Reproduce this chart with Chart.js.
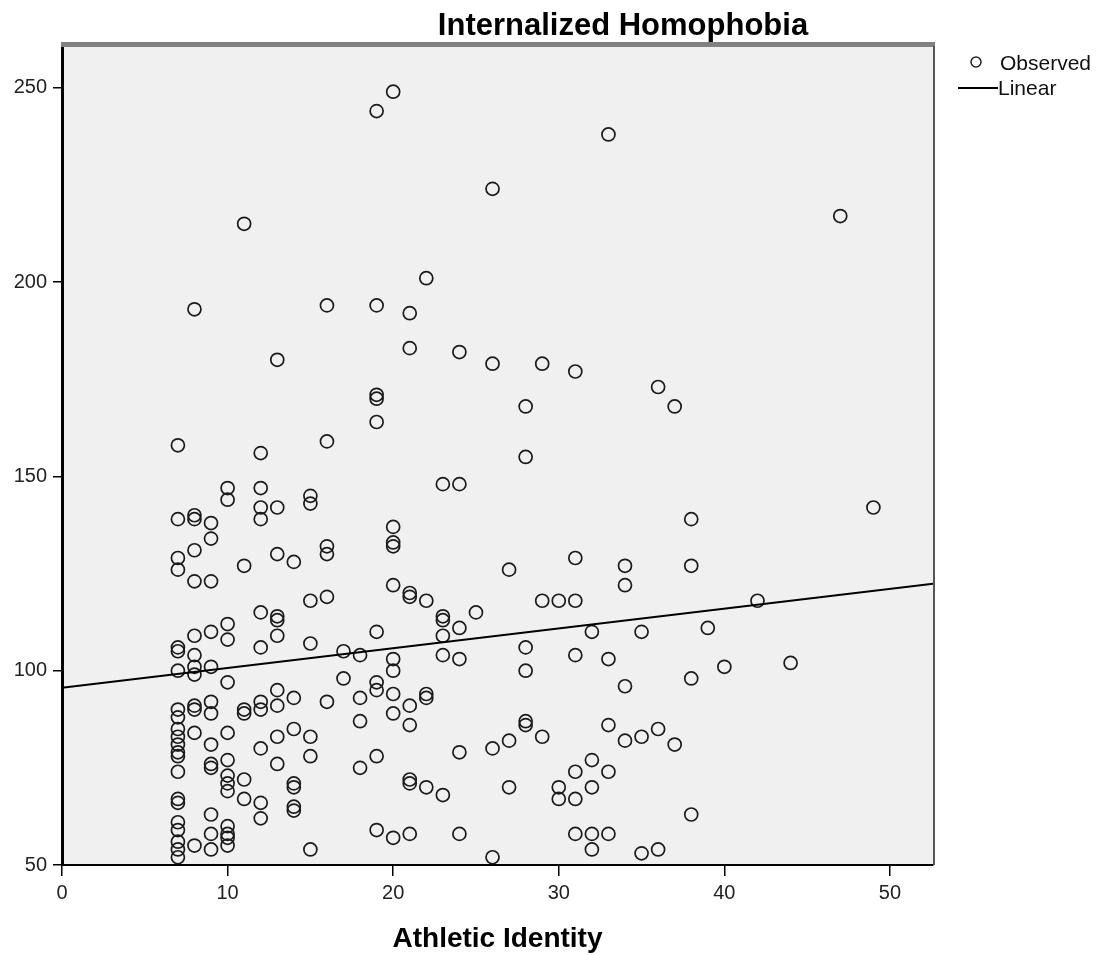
<!DOCTYPE html>
<html>
<head>
<meta charset="utf-8">
<title>Internalized Homophobia</title>
<script src="https://cdn.jsdelivr.net/npm/chart.js@4.4.1/dist/chart.umd.min.js"></script>
<style>
  html, body { margin: 0; padding: 0; background: #fff; }
  #wrap { width: 1101px; height: 955px; }
</style>
</head>
<body>
<div id="wrap"><canvas id="myChart" width="1101" height="955"></canvas></div>
<script>
// Athletic Identity score levels and the Internalized Homophobia scores observed at each
const identityLevels = [7, 8, 9, 10, 11, 12, 13, 14, 15, 16, 17, 18, 19, 20, 21, 22, 23, 24, 25, 26,
    27, 28, 29, 30, 31, 32, 33, 34, 35, 36, 37, 38, 39, 40, 42, 44, 47, 49];
const homophobiaAtLevel = [
    [158, 139, 129, 126, 106, 105, 100, 90, 88, 85, 83, 81, 79, 78, 74, 67, 66, 61, 59, 56, 54, 52],
    [193, 140, 139, 131, 123, 109, 104, 101, 99, 91, 90, 84, 55],
    [138, 134, 123, 110, 101, 92, 89, 81, 76, 75, 63, 58, 54],
    [147, 144, 112, 108, 97, 84, 77, 73, 71, 69, 60, 58, 57, 55],
    [215, 127, 90, 89, 72, 67],
    [156, 147, 142, 139, 115, 106, 92, 90, 80, 66, 62],
    [180, 142, 130, 114, 113, 109, 95, 91, 83, 76],
    [128, 93, 85, 71, 70, 65, 64],
    [145, 143, 118, 107, 83, 78, 54],
    [194, 159, 132, 130, 119, 92],
    [105, 98],
    [104, 93, 87, 75],
    [244, 194, 171, 170, 164, 110, 97, 95, 78, 59],
    [249, 137, 133, 132, 122, 103, 100, 94, 89, 57],
    [192, 183, 120, 119, 91, 86, 72, 71, 58],
    [201, 118, 94, 93, 70],
    [148, 114, 113, 109, 104, 68],
    [182, 148, 111, 103, 79, 58],
    [115],
    [224, 179, 80, 52],
    [126, 82, 70],
    [168, 155, 106, 100, 87, 86],
    [179, 118, 83],
    [118, 70, 67],
    [177, 129, 118, 104, 74, 67, 58],
    [110, 77, 70, 58, 54],
    [238, 103, 86, 74, 58],
    [127, 122, 96, 82],
    [110, 83, 53],
    [173, 85, 54],
    [168, 81],
    [139, 127, 98, 63],
    [111],
    [101],
    [118],
    [102],
    [217],
    [142]
];

// fitted linear line, read at the two edges of the plot
const linearX = [0, 52.6];
const linearY = [95.6, 122.4];

const xTicks = [0, 10, 20, 30, 40, 50];
const yTicks = [50, 100, 150, 200, 250];

const observed = [];
identityLevels.forEach((lvl, i) => {
    homophobiaAtLevel[i].forEach(v => observed.push({x: lvl, y: v}));
});
const linear = linearX.map((x, i) => ({x: x, y: linearY[i]}));

const frame = {
    id: 'frame',
    beforeDraw(chart) {
        const {ctx, chartArea: a} = chart;
        ctx.save();
        ctx.fillStyle = '#f0f0f0';
        ctx.fillRect(a.left, a.top, a.right - a.left, a.bottom - a.top);
        ctx.restore();
    },
    afterDraw(chart) {
        const {ctx, chartArea: a} = chart;
        ctx.save();
        // top and right edges of the box
        ctx.fillStyle = '#808080';
        ctx.fillRect(a.left - 1, a.top - 5, a.right - a.left + 3, 5);
        ctx.fillStyle = '#555';
        ctx.fillRect(a.right, a.top - 1, 2, a.bottom - a.top + 1);

        ctx.fillStyle = '#000';
        ctx.textBaseline = 'middle';
        ctx.textAlign = 'center';
        ctx.font = 'bold 31px "Liberation Sans", Arial, sans-serif';
        ctx.fillText('Internalized Homophobia', 623, 26);
        ctx.font = 'bold 28px "Liberation Sans", Arial, sans-serif';
        ctx.fillText('Athletic Identity', (a.left + a.right) / 2, 939);

        // legend
        ctx.textAlign = 'left';
        ctx.font = '21px "Liberation Sans", Arial, sans-serif';
        ctx.strokeStyle = '#222';
        ctx.lineWidth = 1.5;
        ctx.beginPath();
        ctx.arc(976, 62, 5, 0, Math.PI * 2);
        ctx.stroke();
        ctx.fillStyle = '#111';
        ctx.fillText('Observed', 1000, 64);
        ctx.strokeStyle = '#000';
        ctx.lineWidth = 2;
        ctx.beginPath();
        ctx.moveTo(958, 88);
        ctx.lineTo(998, 88);
        ctx.stroke();
        ctx.fillText('Linear', 998, 89);
        ctx.restore();
    }
};

const tickFont = {family: '"Liberation Sans", Arial, sans-serif', size: 20};

new Chart(document.getElementById('myChart').getContext('2d'), {
    data: {
        datasets: [
            {
                type: 'scatter',
                label: 'Observed',
                data: observed,
                pointStyle: 'circle',
                pointRadius: 6.5,
                pointBorderWidth: 1.7,
                borderColor: '#1a1a1a',
                backgroundColor: 'rgba(0,0,0,0)',
                order: 2
            },
            {
                type: 'line',
                label: 'Linear',
                data: linear,
                borderColor: '#000',
                borderWidth: 2,
                pointRadius: 0,
                fill: false,
                order: 1
            }
        ]
    },
    options: {
        responsive: false,
        animation: false,
        layout: {padding: {left: 0, top: 47, right: 168, bottom: 0}},
        plugins: {
            legend: {display: false},
            title: {display: false},
            tooltip: {enabled: false}
        },
        scales: {
            x: {
                type: 'linear',
                min: 0,
                max: 52.6,
                afterFit: s => { s.height = 90; },
                afterBuildTicks: s => { s.ticks = xTicks.map(v => ({value: v})); },
                ticks: {font: tickFont, color: '#222', padding: 5},
                grid: {drawOnChartArea: false, drawTicks: true, tickLength: 11, color: '#000', lineWidth: 1.5},
                border: {display: true, color: '#000', width: 2}
            },
            y: {
                type: 'linear',
                min: 50,
                max: 260.5,
                afterFit: s => { s.width = 62; },
                afterBuildTicks: s => { s.ticks = yTicks.map(v => ({value: v})); },
                ticks: {font: tickFont, color: '#222', padding: 6},
                grid: {drawOnChartArea: false, drawTicks: true, tickLength: 9, color: '#000', lineWidth: 1.5},
                border: {display: true, color: '#000', width: 3}
            }
        }
    },
    plugins: [frame]
});
</script>
</body>
</html>
